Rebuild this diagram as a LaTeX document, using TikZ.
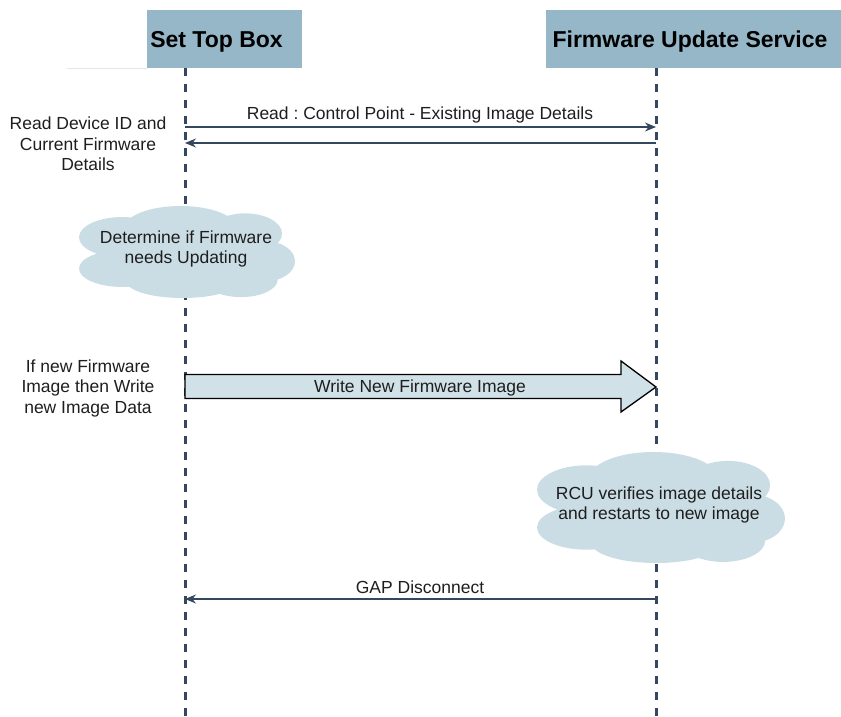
\documentclass[tikz,border=0pt]{standalone}
\usepackage{fontspec}
\setmainfont{Liberation Sans}
\usetikzlibrary{arrows.meta}
\definecolor{hdr}{HTML}{95B7C7}
\definecolor{cld}{HTML}{CADDE4}
\definecolor{blk}{HTML}{D0E1E7}
\definecolor{ln}{HTML}{34475E}
\definecolor{txt}{HTML}{1E1E1E}
\begin{document}
\frenchspacing
\begin{tikzpicture}[x=1pt,y=-1pt,
  hdrbox/.style={fill=hdr, draw=none, inner sep=0pt},
  hdrtext/.style={font=\fontsize{23}{27}\selectfont\bfseries, anchor=base, text=black, inner sep=0pt},
  lifeline/.style={draw=ln, line width=3pt, dash pattern=on 8pt off 8pt},
  msg/.style={draw=ln, line width=1.2pt, -{Stealth[length=11pt,width=9pt]}},
  lbl/.style={font=\fontsize{17.5}{20.5}\selectfont, align=center, inner sep=0pt, text=txt},
  blockarrow/.style={fill=blk, draw=black, line width=1.3pt, line join=miter},
  cloudpic/.pic={
    \fill[cld] (0.200,0.340) ellipse [x radius=0.200, y radius=0.220];
    \fill[cld] (0.470,0.240) ellipse [x radius=0.260, y radius=0.240];
    \fill[cld] (0.770,0.300) ellipse [x radius=0.170, y radius=0.220];
    \fill[cld] (0.860,0.600) ellipse [x radius=0.140, y radius=0.220];
    \fill[cld] (0.750,0.800) ellipse [x radius=0.170, y radius=0.190];
    \fill[cld] (0.480,0.820) ellipse [x radius=0.260, y radius=0.180];
    \fill[cld] (0.200,0.680) ellipse [x radius=0.200, y radius=0.200];
    \fill[cld] (0.500,0.530) ellipse [x radius=0.420, y radius=0.400];
  }
]
\useasboundingbox (0,0) rectangle (841,717);

% faint rule
\coordinate (rulea) at (67,68);
\coordinate (ruleb) at (147,68);
\draw[black!10, line width=0.8pt] (rulea) -- (ruleb);

% headers
\node[hdrbox, minimum width=155pt, minimum height=58pt] (stbbox) at (224.5,39) {};
\node[hdrbox, minimum width=295pt, minimum height=58pt] (fusbox) at (693.5,39) {};
\node[hdrtext] (stb) at (216.5,48) {Set Top Box};
\node[hdrtext] (fus) at (690,48) {Firmware Update Service};

% lifelines
\coordinate (stbtop) at (185,68);
\coordinate (stbbot) at (185,717);
\coordinate (fustop) at (656,68);
\coordinate (fusbot) at (656,717);
\draw[lifeline] (stbtop) -- (stbbot);
\draw[lifeline] (fustop) -- (fusbot);

% message 1 and 2
\coordinate (m1s) at (185,127);
\coordinate (m1e) at (656,127);
\coordinate (m2s) at (656,143);
\coordinate (m2e) at (185,143);
\draw[msg] (m1s) -- (m1e);
\draw[msg] (m2s) -- (m2e);
\node[lbl] (m1lbl) at (420,115) {Read : Control Point - Existing Image Details};
\node[lbl] (side1) at (88,144) {Read Device ID and\\Current Firmware\\Details};

% cloud 1
\pic[xscale=216, yscale=92] (c1) at (79,206) {cloudpic};
\node[lbl] (c1text) at (186,249) {Determine if Firmware\\needs Updating};

% block arrow
\coordinate (ba1) at (185,374.5);
\coordinate (ba2) at (621,374.5);
\coordinate (ba3) at (621,361);
\coordinate (batip) at (656,387);
\coordinate (ba4) at (621,412);
\coordinate (ba5) at (621,398.5);
\coordinate (ba6) at (185,398.5);
\draw[blockarrow] (ba1) -- (ba2) -- (ba3) -- (batip) -- (ba4) -- (ba5) -- (ba6) -- cycle;
\node[lbl] (balbl) at (420,388) {Write New Firmware Image};
\node[lbl] (side2) at (88,388) {If new Firmware\\Image then Write\\new Image Data};

% cloud 2
\pic[xscale=248, yscale=111] (c2) at (537,452) {cloudpic};
\node[lbl] (c2text) at (659,505) {RCU verifies image details\\and restarts to new image};

% GAP disconnect
\coordinate (m3s) at (656,599);
\coordinate (m3e) at (185,599);
\draw[msg] (m3s) -- (m3e);
\node[lbl] (m3lbl) at (420,587) {GAP Disconnect};
\end{tikzpicture}
\end{document}
